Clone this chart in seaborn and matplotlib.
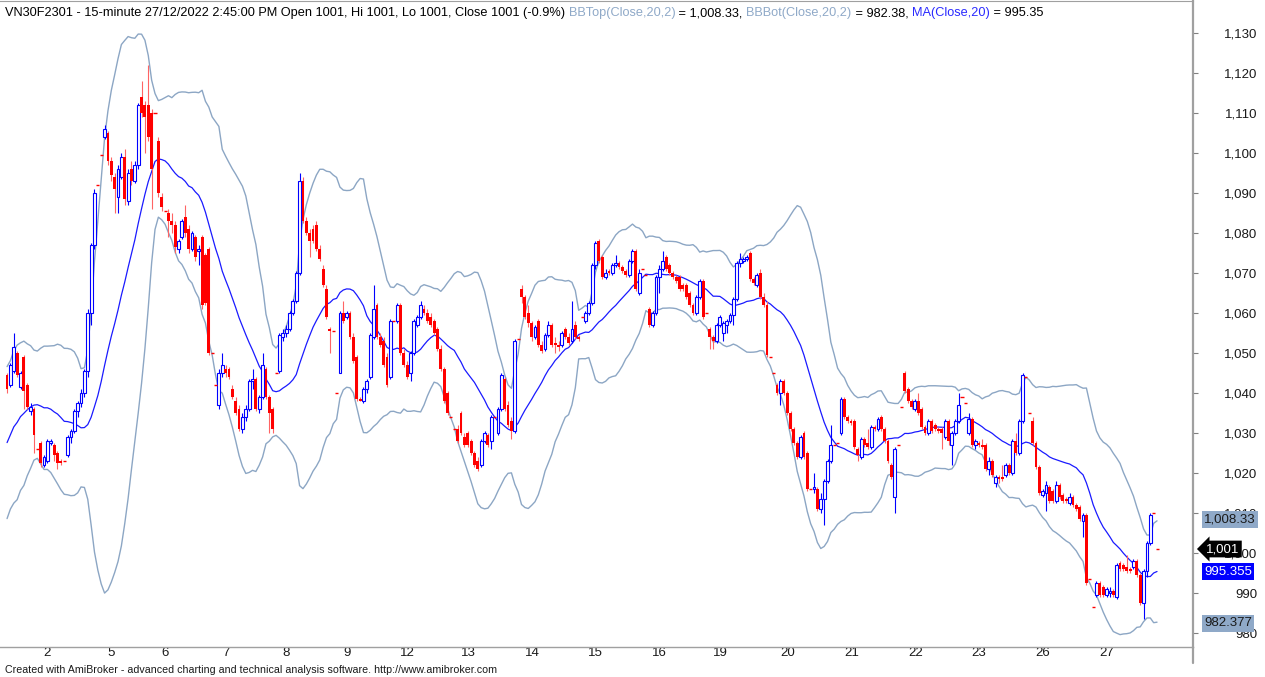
import numpy as np
import pandas as pd
import matplotlib
matplotlib.use("Agg")
import matplotlib.pyplot as plt
import matplotlib.transforms as mtransforms
from matplotlib.lines import Line2D
import seaborn as sns

sns.set_style("white")
plt.rcParams["font.family"] = ["Liberation Sans", "DejaVu Sans"]

# ---- VN30F2301, 15-minute bars, 1 Dec - 27 Dec 2022 ----
# closes before the first visible bar, only needed to seed the 20-bar bands
warmup_closes = [1008, 1012, 1022, 1016, 1024, 1019, 1022.5, 1020, 1024, 1029,
                 1033, 1028, 1035, 1038, 1033, 1040, 1042, 1030.5, 1035]

opens = [
    1044.5, 1042.0, 1045.5, 1050.0, 1041.5, 1049.0, 1042.0, 1035.5, 1036.0, 1026.0,
    1027.5, 1022.0, 1023.0, 1027.5, 1027.0, 1025.0, 1023.0, 1023.0, 1024.5, 1029.0, 1030.5, 1035.5, 1037.5, 1040.0, 1045.5, 1060.0, 1077.0, 1092.0, 1099.5,
    1104.0, 1105.0, 1098.0, 1094.0, 1089.0, 1094.0, 1099.0, 1088.0, 1096.0, 1093.0, 1097.0, 1114.0, 1112.0, 1112.0, 1110.0, 1110.0, 1103.0, 1089.0, 1085.5,
    1085.0, 1083.0, 1082.0, 1076.0, 1079.0, 1084.0, 1081.0, 1076.0, 1079.0, 1075.5, 1079.0, 1074.5, 1076.0, 1050.0, 1042.0, 1037.0, 1045.0, 1046.0, 1046.0,
    1041.0, 1038.0, 1036.0, 1031.0, 1034.0, 1036.0, 1043.0, 1043.5, 1036.0, 1039.0, 1046.0, 1039.0, 1036.0, 1045.0, 1045.5, 1054.0, 1055.0, 1056.0, 1060.0,
    1063.0, 1070.0, 1093.0, 1083.0, 1080.0, 1081.0, 1082.0, 1076.0, 1071.0, 1066.0, 1056.0, 1055.5, 1040.0, 1045.0, 1060.0, 1059.0, 1060.0, 1054.0, 1049.0,
    1038.5, 1038.0, 1041.0, 1044.0, 1054.0, 1062.0, 1054.0, 1053.0, 1049.0, 1044.0, 1058.0, 1058.0, 1062.0, 1050.0, 1047.0, 1045.0, 1050.0, 1057.0, 1059.0,
    1061.0, 1060.0, 1059.0, 1058.0, 1056.0, 1051.0, 1046.0, 1040.0, 1034.0, 1031.0, 1031.0, 1035.0, 1029.0, 1030.0, 1028.0, 1025.0, 1023.0, 1022.0, 1028.0,
    1029.5, 1028.0, 1034.0, 1030.0, 1036.0, 1043.5, 1037.0, 1033.0, 1030.5, 1053.5,
    1066.0, 1064.0, 1060.0, 1057.5, 1054.0, 1058.0, 1052.0, 1051.0, 1054.5, 1057.0, 1052.5, 1052.0, 1052.0, 1056.0, 1054.0, 1053.0, 1057.0, 1054.0, 1059.0,
    1058.0, 1060.0, 1062.5, 1072.0, 1078.0, 1074.0, 1069.0, 1070.5, 1070.0, 1072.0, 1072.5, 1071.5, 1070.5, 1069.5, 1073.0, 1075.5, 1065.0, 1071.0, 1069.5,
    1061.0, 1057.0, 1060.0, 1069.0, 1071.0, 1074.0, 1072.0, 1070.0, 1069.0, 1069.0, 1067.0, 1067.0, 1065.0, 1062.0, 1060.0, 1064.0, 1068.0, 1060.0,
    1056.0, 1054.0, 1053.0, 1057.0, 1055.0, 1057.0, 1058.0, 1059.5, 1063.5, 1072.5, 1073.0, 1073.5, 1075.0, 1068.5, 1067.0, 1070.0, 1064.0, 1062.0, 1049.0, 1045.0,
    1042.0, 1040.0, 1043.0, 1040.0, 1035.0, 1031.0, 1027.5, 1024.0, 1030.0, 1025.0, 1016.0, 1016.0, 1016.0, 1011.0, 1013.5, 1018.0, 1023.0, 1027.0, 1027.5,
    1030.0, 1038.5, 1034.0, 1033.0, 1033.0, 1026.0, 1024.0, 1028.5, 1027.5, 1026.5, 1031.5, 1031.0, 1034.0, 1031.0, 1028.0, 1022.0, 1014.0, 1027.0, 1036.5,
    1045.0, 1041.0, 1038.0, 1036.0, 1038.0, 1036.0, 1031.5, 1030.0, 1033.0, 1032.0, 1031.0, 1031.0, 1029.0, 1033.0, 1027.0, 1030.0, 1033.0, 1039.0, 1037.5,
    1030.0, 1033.5, 1027.0, 1027.5, 1027.0, 1027.0, 1021.0, 1023.0, 1017.5, 1019.0, 1019.0, 1019.5, 1022.0, 1020.0, 1028.0, 1025.0, 1033.0, 1044.0, 1035.0,
    1033.0, 1027.5, 1021.5, 1014.5, 1015.0, 1016.5, 1015.5, 1013.0, 1017.0, 1014.5, 1013.5, 1012.5, 1014.0, 1012.0, 1011.5, 1008.0, 1009.5, 993.5, 986.5,
    989.5, 992.5, 991.5, 989.5, 990.0, 990.5, 989.0, 997.5, 997.0, 996.5, 996.0, 996.5, 998.0, 994.5, 987.5, 995.5, 1002.5, 1010.0, 1001.0,
]

highs = [
    1045.0, 1047.5, 1055.0, 1050.5, 1045.5, 1049.5, 1042.5, 1037.5, 1036.5, 1026.0,
    1028.0, 1024.5, 1028.5, 1028.5, 1027.5, 1025.5, 1023.5, 1023.0, 1029.5, 1031.0, 1036.0, 1038.0, 1041.0, 1046.0, 1061.0, 1077.5, 1091.0, 1092.0, 1099.5,
    1107.0, 1105.5, 1099.0, 1095.0, 1097.0, 1100.0, 1101.0, 1096.0, 1098.0, 1098.0, 1112.5, 1118.0, 1113.0, 1122.0, 1111.0, 1110.0, 1104.0, 1090.0, 1085.5,
    1086.0, 1085.0, 1083.0, 1078.5, 1083.5, 1087.0, 1082.0, 1080.5, 1079.5, 1077.0, 1079.5, 1075.0, 1076.5, 1050.0, 1042.0, 1046.0, 1050.0, 1047.0, 1046.5,
    1042.0, 1039.0, 1037.0, 1035.0, 1037.0, 1043.5, 1046.0, 1044.0, 1039.5, 1050.0, 1046.5, 1039.5, 1036.5, 1045.0, 1055.0, 1056.0, 1057.0, 1060.5, 1063.5,
    1070.5, 1095.0, 1094.0, 1084.0, 1081.0, 1082.0, 1083.0, 1077.0, 1072.0, 1067.0, 1056.5, 1055.5, 1040.0, 1060.5, 1063.0, 1060.5, 1060.5, 1055.0, 1049.5,
    1039.0, 1041.5, 1043.5, 1055.0, 1067.0, 1062.5, 1055.0, 1054.0, 1050.0, 1058.5, 1058.0, 1062.5, 1062.5, 1051.0, 1048.0, 1050.5, 1058.5, 1059.5, 1063.0,
    1062.0, 1061.0, 1060.0, 1058.5, 1056.5, 1052.0, 1046.5, 1040.5, 1034.0, 1031.0, 1032.0, 1035.5, 1030.0, 1030.5, 1028.5, 1025.5, 1024.0, 1028.5, 1030.5,
    1030.0, 1034.5, 1034.0, 1036.5, 1045.0, 1044.0, 1038.0, 1034.0, 1053.5, 1053.5,
    1067.0, 1064.5, 1062.0, 1058.0, 1057.0, 1058.5, 1053.0, 1055.0, 1058.0, 1057.5, 1054.0, 1053.0, 1055.5, 1056.5, 1055.0, 1063.0, 1058.0, 1054.5, 1059.0,
    1060.5, 1063.0, 1072.5, 1078.0, 1078.5, 1074.5, 1071.0, 1071.0, 1072.5, 1074.5, 1073.0, 1072.0, 1071.0, 1073.5, 1076.0, 1076.0, 1071.0, 1071.0, 1069.5,
    1061.5, 1060.5, 1069.5, 1072.0, 1075.5, 1074.5, 1072.5, 1070.5, 1069.5, 1069.5, 1067.5, 1067.5, 1065.5, 1062.5, 1064.5, 1068.5, 1068.5, 1060.0,
    1056.5, 1054.5, 1057.5, 1059.5, 1058.0, 1058.5, 1060.0, 1064.0, 1073.0, 1075.0, 1074.0, 1074.5, 1075.5, 1069.0, 1070.0, 1071.0, 1065.0, 1063.0, 1049.0, 1045.0,
    1042.5, 1043.5, 1043.5, 1040.5, 1035.5, 1031.5, 1028.0, 1029.5, 1030.5, 1025.5, 1016.0, 1020.0, 1016.5, 1015.0, 1018.5, 1023.5, 1032.0, 1027.0, 1027.5,
    1039.0, 1039.0, 1034.5, 1033.5, 1033.5, 1026.5, 1029.0, 1029.0, 1031.0, 1032.0, 1032.0, 1034.0, 1034.5, 1031.5, 1028.5, 1022.5, 1026.5, 1027.0, 1036.5,
    1045.5, 1041.5, 1038.5, 1038.5, 1040.0, 1036.5, 1032.0, 1033.5, 1033.5, 1032.5, 1031.5, 1031.5, 1033.5, 1033.5, 1030.5, 1033.5, 1040.0, 1039.0, 1037.5,
    1035.0, 1034.0, 1028.5, 1028.0, 1028.5, 1027.5, 1024.0, 1023.5, 1019.5, 1019.5, 1022.0, 1022.5, 1022.5, 1028.5, 1030.0, 1033.5, 1045.0, 1044.0, 1035.0,
    1034.0, 1028.0, 1022.0, 1016.0, 1018.0, 1017.0, 1016.0, 1018.0, 1017.5, 1015.0, 1014.0, 1015.0, 1014.5, 1012.5, 1012.0, 1010.0, 1010.0, 993.5, 986.5,
    993.0, 993.0, 992.0, 991.5, 991.5, 991.0, 997.5, 998.0, 997.5, 999.5, 996.5, 998.5, 998.5, 995.0, 996.0, 1003.0, 1010.0, 1010.0, 1001.0,
]

lows = [
    1040.0, 1041.5, 1045.0, 1044.0, 1041.0, 1036.0, 1036.0, 1034.5, 1025.0, 1026.0,
    1021.5, 1021.5, 1022.5, 1027.0, 1023.0, 1021.0, 1022.0, 1023.0, 1024.0, 1027.5, 1030.0, 1034.0, 1036.5, 1039.0, 1044.0, 1057.0, 1076.0, 1092.0, 1099.5,
    1103.5, 1097.0, 1093.0, 1085.0, 1085.0, 1093.5, 1087.0, 1087.0, 1092.0, 1092.5, 1096.0, 1109.0, 1100.0, 1103.0, 1086.0, 1110.0, 1089.0, 1085.5, 1085.5,
    1079.0, 1080.0, 1075.0, 1075.0, 1078.5, 1079.0, 1075.0, 1075.5, 1073.0, 1072.0, 1061.0, 1062.0, 1049.5, 1050.0, 1042.0, 1036.0, 1044.0, 1044.0, 1043.5,
    1038.5, 1034.5, 1030.5, 1030.0, 1033.0, 1035.5, 1041.0, 1035.5, 1035.0, 1038.5, 1038.5, 1030.0, 1030.0, 1045.0, 1045.0, 1053.0, 1054.0, 1055.5, 1059.5,
    1062.5, 1069.5, 1082.5, 1079.5, 1074.0, 1077.5, 1075.5, 1073.0, 1066.5, 1058.5, 1050.0, 1055.5, 1040.0, 1045.0, 1057.5, 1058.5, 1053.5, 1047.5, 1038.0,
    1038.0, 1037.5, 1040.0, 1043.5, 1053.5, 1053.5, 1051.5, 1046.5, 1041.5, 1043.5, 1058.0, 1057.5, 1049.5, 1046.5, 1043.5, 1043.0, 1049.5, 1056.5, 1058.5,
    1059.5, 1057.5, 1056.5, 1054.5, 1050.5, 1045.5, 1037.5, 1034.5, 1034.0, 1031.0, 1027.5, 1029.5, 1026.5, 1026.5, 1024.5, 1021.5, 1020.5, 1021.5, 1027.5,
    1026.5, 1026.0, 1034.0, 1029.5, 1035.5, 1035.5, 1031.5, 1028.5, 1030.0, 1053.5,
    1062.5, 1058.5, 1056.5, 1053.0, 1053.5, 1051.5, 1050.0, 1050.5, 1054.0, 1051.5, 1050.0, 1050.5, 1051.5, 1053.5, 1052.0, 1052.5, 1053.5, 1053.0, 1059.0,
    1057.5, 1059.5, 1062.0, 1071.0, 1072.5, 1068.5, 1068.5, 1069.5, 1069.5, 1071.5, 1071.0, 1070.0, 1069.0, 1069.0, 1072.5, 1065.5, 1064.5, 1071.0, 1069.5,
    1056.5, 1056.5, 1059.5, 1065.0, 1070.5, 1070.5, 1069.5, 1068.5, 1067.5, 1065.5, 1065.5, 1063.5, 1061.5, 1059.5, 1059.5, 1063.5, 1058.5, 1060.0,
    1051.0, 1051.0, 1052.5, 1056.5, 1053.0, 1055.0, 1057.5, 1057.0, 1063.0, 1071.5, 1072.5, 1073.0, 1068.0, 1067.0, 1066.5, 1063.5, 1061.5, 1049.0, 1049.0, 1045.0,
    1039.5, 1037.0, 1039.5, 1034.5, 1030.5, 1027.0, 1023.5, 1023.5, 1023.5, 1015.5, 1016.0, 1015.0, 1010.5, 1010.0, 1007.0, 1017.5, 1022.5, 1027.0, 1027.5,
    1029.5, 1033.5, 1032.5, 1032.0, 1026.0, 1023.0, 1023.5, 1026.5, 1026.0, 1026.0, 1030.5, 1030.5, 1030.5, 1027.5, 1022.5, 1018.5, 1010.0, 1027.0, 1036.5,
    1040.0, 1037.5, 1036.0, 1035.5, 1034.5, 1031.0, 1029.5, 1029.5, 1030.0, 1030.5, 1030.0, 1026.0, 1028.5, 1027.0, 1022.0, 1029.5, 1032.5, 1039.0, 1037.5,
    1029.5, 1026.5, 1026.0, 1026.5, 1026.0, 1020.5, 1019.5, 1019.0, 1016.5, 1017.5, 1018.0, 1019.0, 1019.5, 1019.5, 1024.5, 1024.5, 1032.5, 1044.0, 1035.0,
    1027.0, 1021.0, 1014.5, 1014.0, 1010.5, 1012.5, 1012.5, 1012.5, 1013.5, 1012.5, 1012.5, 1012.0, 1011.5, 1010.5, 1008.0, 1004.0, 992.0, 993.5, 986.5,
    989.0, 989.0, 989.0, 989.0, 989.0, 989.0, 988.5, 995.5, 995.5, 995.0, 995.0, 996.0, 994.0, 987.0, 983.5, 994.0, 1002.0, 1010.0, 1001.0,
]

closes = [
    1041.0, 1047.0, 1051.5, 1044.5, 1045.0, 1040.5, 1036.5, 1036.5, 1029.5, 1026.0,
    1022.5, 1024.0, 1028.0, 1028.0, 1024.5, 1022.5, 1022.5, 1023.0, 1029.0, 1030.5, 1035.5, 1037.5, 1040.0, 1045.5, 1060.0, 1077.0, 1090.0, 1092.0, 1099.5,
    1106.0, 1098.0, 1094.5, 1091.0, 1096.0, 1099.0, 1088.5, 1095.0, 1093.0, 1097.0, 1112.0, 1110.0, 1109.0, 1104.0, 1096.0, 1110.0, 1090.0, 1086.5, 1085.5,
    1083.0, 1082.0, 1076.5, 1078.0, 1083.0, 1080.0, 1076.0, 1080.0, 1074.0, 1076.0, 1062.0, 1062.5, 1050.0, 1050.0, 1042.0, 1045.0, 1047.0, 1045.0, 1044.0,
    1039.0, 1035.0, 1031.0, 1034.0, 1036.0, 1043.0, 1043.5, 1036.0, 1039.0, 1047.0, 1039.0, 1035.0, 1031.0, 1045.0, 1054.5, 1055.0, 1056.0, 1060.0, 1063.0,
    1070.0, 1093.0, 1083.0, 1080.0, 1078.0, 1078.0, 1076.0, 1073.5, 1067.0, 1059.0, 1055.5, 1055.5, 1040.0, 1060.0, 1058.0, 1060.0, 1054.0, 1048.0, 1038.5,
    1038.0, 1041.0, 1043.0, 1054.5, 1061.0, 1054.0, 1052.0, 1047.0, 1042.0, 1058.0, 1058.0, 1062.0, 1050.0, 1047.0, 1044.0, 1050.0, 1058.0, 1059.0, 1062.0,
    1060.0, 1058.0, 1057.0, 1055.0, 1051.0, 1046.0, 1038.0, 1035.0, 1034.0, 1031.0, 1028.0, 1030.0, 1027.0, 1027.0, 1025.0, 1022.0, 1021.0, 1028.0, 1030.0,
    1027.0, 1034.0, 1034.0, 1036.0, 1044.5, 1036.0, 1032.0, 1030.5, 1053.0, 1053.5,
    1064.0, 1059.0, 1057.5, 1054.0, 1056.5, 1052.0, 1050.5, 1054.5, 1057.0, 1052.0, 1052.0, 1051.5, 1055.0, 1054.0, 1052.5, 1056.0, 1054.0, 1053.5, 1059.0,
    1060.0, 1062.5, 1072.0, 1077.5, 1073.0, 1069.0, 1070.0, 1070.0, 1072.0, 1072.5, 1071.5, 1070.5, 1069.5, 1073.0, 1075.5, 1066.0, 1070.0, 1071.0, 1069.5,
    1057.0, 1060.0, 1069.0, 1071.0, 1073.0, 1071.0, 1070.0, 1069.0, 1068.0, 1066.0, 1066.0, 1064.0, 1062.0, 1060.0, 1064.0, 1068.0, 1059.0, 1060.0,
    1054.0, 1053.0, 1057.0, 1059.0, 1057.5, 1058.0, 1059.5, 1063.5, 1072.5, 1073.5, 1073.5, 1074.0, 1068.5, 1067.5, 1069.5, 1064.0, 1062.0, 1049.5, 1049.0, 1045.0,
    1040.0, 1043.0, 1040.0, 1035.0, 1031.0, 1027.5, 1024.0, 1029.0, 1024.0, 1016.0, 1016.0, 1016.5, 1011.0, 1013.5, 1018.0, 1023.0, 1027.0, 1027.0, 1027.5,
    1038.5, 1034.0, 1033.0, 1032.5, 1026.5, 1024.5, 1028.5, 1027.0, 1026.5, 1031.5, 1031.0, 1033.5, 1031.0, 1028.0, 1023.0, 1019.0, 1026.0, 1027.0, 1036.5,
    1040.5, 1038.0, 1036.5, 1038.0, 1035.0, 1031.5, 1030.0, 1033.0, 1030.5, 1031.0, 1030.5, 1030.0, 1033.0, 1028.0, 1030.0, 1033.0, 1037.0, 1039.0, 1037.5,
    1033.5, 1027.0, 1028.0, 1027.0, 1026.5, 1021.0, 1023.0, 1019.5, 1019.0, 1018.5, 1018.5, 1022.0, 1020.0, 1028.0, 1025.0, 1033.0, 1044.5, 1044.0, 1035.0,
    1027.5, 1021.5, 1015.0, 1015.5, 1017.0, 1013.0, 1013.0, 1017.0, 1014.0, 1013.0, 1013.0, 1014.0, 1012.0, 1011.0, 1008.5, 1009.5, 992.5, 993.5, 986.5,
    992.5, 989.5, 989.5, 991.0, 990.5, 989.5, 997.0, 996.0, 996.0, 995.5, 995.5, 998.0, 994.5, 987.5, 995.5, 1002.5, 1009.5, 1010.0, 1001.0,
]

day_labels = ["2", "5", "6", "7", "8", "9", "12", "13", "14", "15",
              "16", "19", "20", "21", "22", "23", "26", "27"]
day_first_bar = [10, 29, 45, 63, 81, 99, 116, 134, 153, 172,
                 191, 209, 229, 248, 267, 286, 305, 324]

header_parts = [
    ("VN30F2301 - 15-minute 27/12/2022 2:45:00 PM Open 1001, Hi 1001, Lo 1001, Close 1001 (-0.9%) ", "black"),
    ("BBTop(Close,20,2)", "#8fa9c8"),
    (" = 1,008.33, ", "black"),
    ("BBBot(Close,20,2)", "#8fa9c8"),
    (" = 982.38, ", "black"),
    ("MA(Close,20)", "#2a2aff"),
    (" = 995.35", "black"),
]
marker_values = [1008.33, 1001.0, 995.355, 982.377]
marker_texts = ["1,008.33", "1,001", "995.355", "982.377"]

footer = ("Created with AmiBroker - advanced charting and technical analysis software. "
          "http://www.amibroker.com")

BAND = "#8ca6c4"
MA_COL = "#1a1aff"
UP = "#0000ff"
DOWN = "#ff0000"
DOWN_WICK = "#ff6464"
GRID = "#a0a0a0"

# ---- indicators: 20-bar MA and Bollinger bands (population st.dev) ----
c_all = pd.Series(warmup_closes + closes, dtype=float)
ma = c_all.rolling(20).mean()
sd = c_all.rolling(20).std(ddof=0)
k = len(warmup_closes)
bars = pd.DataFrame({
    "bar": np.arange(len(closes)),
    "ma": ma.iloc[k:].to_numpy(),
    "top": (ma + 2 * sd).iloc[k:].to_numpy(),
    "bot": (ma - 2 * sd).iloc[k:].to_numpy(),
})

# ---- figure ----
W, H = 1265, 677
fig = plt.figure(figsize=(W / 100, H / 100), dpi=100)
ax = fig.add_axes([0, (H - 647) / H, 1193 / W, 646 / H])
ax.set_xlim(-2.1, 352.7)
ax.set_ylim(976.5, 1138)

sns.lineplot(data=bars, x="bar", y="top", ax=ax, color=BAND, lw=1.0, zorder=1)
sns.lineplot(data=bars, x="bar", y="bot", ax=ax, color=BAND, lw=1.0, zorder=1)
sns.lineplot(data=bars, x="bar", y="ma", ax=ax, color=MA_COL, lw=0.9, zorder=1)

o = np.array(opens)
h = np.array(highs)
l = np.array(lows)
c = np.array(closes)
x = np.arange(len(c))
up = c > o
dn = c < o
flat = c == o

ax.vlines(x[up], l[up], h[up], color=UP, lw=0.8, zorder=2)
ax.vlines(x[dn], l[dn], h[dn], color=DOWN_WICK, lw=0.8, zorder=2)
ax.bar(x[up], (c - o)[up], bottom=o[up], width=0.85, facecolor="white",
       edgecolor=UP, linewidth=0.8, zorder=3)
ax.bar(x[dn], (o - c)[dn], bottom=c[dn], width=0.85, color=DOWN,
       linewidth=0, zorder=3)
ax.hlines(c[flat], x[flat] - 0.45, x[flat] + 0.45, color=DOWN, lw=1.0, zorder=3)

# ---- axes cosmetics (AmiBroker look) ----
ax.set_xlabel("")
ax.set_ylabel("")
ax.spines["left"].set_visible(False)
ax.spines["top"].set_color(GRID)
ax.spines["top"].set_linewidth(0.8)
ax.spines["bottom"].set_color(GRID)
ax.spines["bottom"].set_linewidth(1.0)
ax.spines["right"].set_color(GRID)
ax.spines["right"].set_linewidth(1.6)
fig.add_artist(Line2D([1193 / W, 1193 / W], [(H - 647) / H, (H - 663) / H],
                      transform=fig.transFigure, color=GRID, lw=1.6))

ax.yaxis.tick_right()
yt = list(range(980, 1131, 10))
ax.set_yticks(yt)
ax.set_yticklabels([f"{v:,}" for v in yt])
ax.tick_params(axis="y", direction="out", length=3.6, width=0.8, color="#808080",
               pad=42.5, labelsize=9.5, labelcolor="#1a1a1a")
for lab in ax.get_yticklabels():
    lab.set_horizontalalignment("right")

ax.set_xticks(day_first_bar)
ax.set_xticklabels(day_labels)
ax.tick_params(axis="x", direction="out", length=2.9, width=0.8, color="#808080",
               pad=-3.2, labelsize=9.5, labelcolor="#1a1a1a")
shift = mtransforms.ScaledTranslation(0.03, 0, fig.dpi_scale_trans)
for lab in ax.get_xticklabels():
    lab.set_horizontalalignment("left")
    lab.set_transform(lab.get_transform() + shift)

# ---- price markers on the axis ----
box_styles = [
    dict(boxstyle="square,pad=0.18", fc="#8fa9c8", ec="none"),
    dict(boxstyle="larrow,pad=0.18", fc="black", ec="none"),
    dict(boxstyle="square,pad=0.18", fc="#0000ff", ec="none"),
    dict(boxstyle="square,pad=0.18", fc="#8fa9c8", ec="none"),
]
text_cols = ["#1a1a1a", "white", "white", "#1a1a1a"]
x_off = [11, 13, 11, 11]
for val, txt, bs, tc, dx in zip(marker_values, marker_texts, box_styles, text_cols, x_off):
    ax.annotate(txt, xy=(1, val), xycoords=("axes fraction", "data"),
                xytext=(dx, 0), textcoords="offset pixels", ha="left",
                va="center", fontsize=9.5, color=tc, bbox=bs,
                annotation_clip=False, zorder=10)

# ---- header line with coloured indicator names ----
t = fig.text(5 / W, 1 - 16 / H, header_parts[0][0], color=header_parts[0][1],
             fontsize=9.2, ha="left", va="baseline")
for s, col in header_parts[1:]:
    t = ax.annotate(s, xy=(1, 0), xycoords=t, ha="left", va="bottom",
                    fontsize=9.2, color=col, annotation_clip=False)

fig.text(5 / W, 1 - 670 / H, footer, fontsize=7.7, ha="left", va="center",
         color="#1a1a1a")

fig.savefig("out.png", dpi=100)
